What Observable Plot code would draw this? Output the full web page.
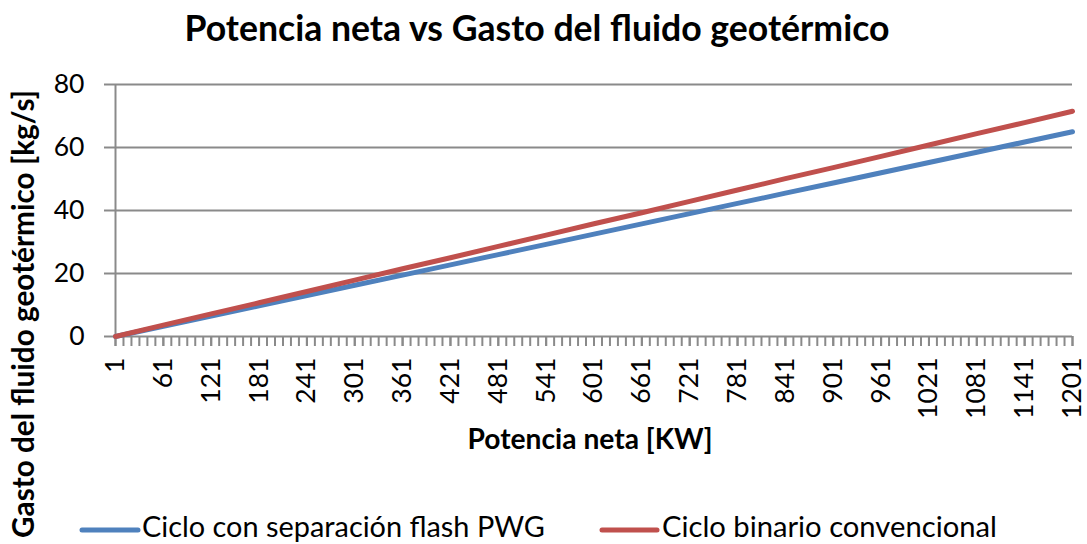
<!DOCTYPE html>
<html>
<head>
<meta charset="utf-8">
<script src="https://cdn.jsdelivr.net/npm/d3@7"></script>
<script src="https://cdn.jsdelivr.net/npm/@observablehq/plot@0.6"></script>
<style>
  html, body { margin: 0; padding: 0; background: #fff; }
  #chart { position: relative; width: 1087px; height: 544px; overflow: hidden; font-family: Lato, "Open Sans", sans-serif; }
  #chart > svg { position: absolute; left: 0; top: 0; }
</style>
</head>
<body>
<div id="chart"></div>
<script>
// ---- data ----
const potencia = [1, 61, 121, 181, 241, 301, 361, 421, 481, 541, 601, 661, 721, 781, 841, 901, 961, 1021, 1081, 1141, 1201];
const flashPWG = [0, 3.25, 6.5, 9.75, 13, 16.25, 19.5, 22.75, 26, 29.25, 32.5, 35.75, 39, 42.25, 45.5, 48.75, 52, 55.25, 58.5, 61.75, 65];
const binario  = [0, 3.6, 7.2, 10.7, 14.3, 17.9, 21.5, 25.0, 28.6, 32.2, 35.8, 39.3, 42.9, 46.5, 50.1, 53.6, 57.2, 60.8, 64.4, 67.9, 71.5];
const xTickLabels = potencia;
const yTickLabels = [0, 20, 40, 60, 80];
const seriesNames = ["Ciclo con separación flash PWG", "Ciclo binario convencional"];
const seriesColors = ["#4F81BD", "#C0504D"];
const titleText = "Potencia neta vs Gasto del fluido geotérmico";
const xTitle = "Potencia neta [KW]";
const yTitle = "Gasto del fluido geotérmico [kg/s]";

const minorTicks = d3.range(1, 1202, 10);
const rows = [];
potencia.forEach((p, i) => {
  rows.push({x: p, y: flashPWG[i], s: seriesNames[0]});
  rows.push({x: p, y: binario[i], s: seriesNames[1]});
});

const gray = "#8a8a8a";
const plot = Plot.plot({
  width: 1087,
  height: 544,
  marginLeft: 115,
  marginRight: 15,
  marginTop: 84,
  marginBottom: 208,
  style: {fontFamily: "Lato, 'Open Sans', sans-serif", color: "#000", background: "transparent"},
  x: {type: "linear", domain: [1, 1201]},
  y: {domain: [0, 80]},
  color: {domain: seriesNames, range: seriesColors},
  marks: [
    Plot.gridY(yTickLabels.filter(d => d > 0), {stroke: gray, strokeOpacity: 1, strokeWidth: 2}),
    Plot.axisY(yTickLabels, {tickSize: 11, tickPadding: 20, fontSize: 26.5, stroke: gray, strokeWidth: 2, tickFormat: d => String(d), label: null}),
    Plot.ruleX([1], {stroke: gray, strokeWidth: 2}),
    Plot.ruleY([0], {stroke: gray, strokeWidth: 2}),
    Plot.axisX(minorTicks, {tickSize: 10, tickFormat: () => "", stroke: gray, strokeWidth: 2, label: null}),
    Plot.axisX(xTickLabels, {tickSize: 10, tickPadding: 11, tickRotate: -90, fontSize: 26.5, stroke: gray, strokeWidth: 2, tickFormat: d => String(d), label: null}),
    Plot.line(rows, {x: "x", y: "y", z: "s", stroke: "s", strokeWidth: 5, strokeLinecap: "round"})
  ]
});
const chart = document.getElementById("chart");
chart.appendChild(plot);

// ---- overlay texts (title, axis titles, legend) ----
const ns = "http://www.w3.org/2000/svg";
const ov = d3.select(chart).append("svg")
  .attr("xmlns", ns).attr("width", 1087).attr("height", 544)
  .style("font-family", "Lato, 'Open Sans', sans-serif");

function fit(sel, target) {
  const node = sel.node();
  const base = parseFloat(sel.attr("font-size"));
  const w = node.getComputedTextLength();
  if (w > 0) sel.attr("font-size", (base * target / w).toFixed(2));
  return sel;
}

fit(ov.append("text").attr("x", 537).attr("y", 41).attr("text-anchor", "middle")
  .attr("font-weight", "bold").attr("font-size", 32).text(titleText), 705);

fit(ov.append("text").attr("transform", "translate(34,314) rotate(-90)").attr("text-anchor", "middle")
  .attr("font-weight", "bold").attr("font-size", 26).text(yTitle), 448);

fit(ov.append("text").attr("x", 590).attr("y", 449).attr("text-anchor", "middle")
  .attr("font-weight", "bold").attr("font-size", 26).text(xTitle), 245);

const legend = [
  {x0: 82, x1: 138, tx: 142, w: 403},
  {x0: 602, x1: 657, tx: 662, w: 335}
];
legend.forEach((l, i) => {
  ov.append("line").attr("x1", l.x0).attr("x2", l.x1).attr("y1", 530).attr("y2", 530)
    .attr("stroke", seriesColors[i]).attr("stroke-width", 5).attr("stroke-linecap", "round");
  fit(ov.append("text").attr("x", l.tx).attr("y", 537).attr("font-size", 26).text(seriesNames[i]), l.w);
});
</script>
</body>
</html>
